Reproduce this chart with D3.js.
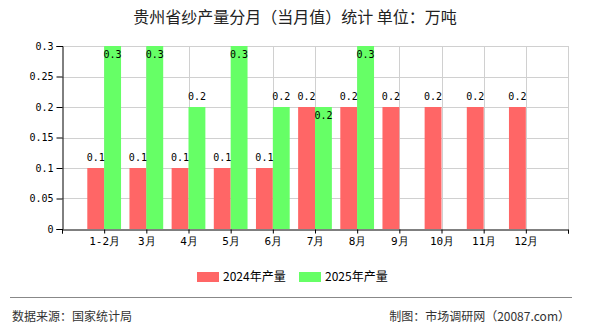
<!DOCTYPE html>
<html lang="zh">
<head>
<meta charset="utf-8">
<script src="https://cdnjs.cloudflare.com/ajax/libs/d3/7.8.5/d3.min.js"></script>
<style type="text/css">
	body{ margin:0; background:#fff; }
	svg{ display:block; }
</style>
</head>
<body>
<div id="chart"></div>
<script type="text/javascript">
	// data
	var months = ["1-2月","3月","4月","5月","6月","7月","8月","9月","10月","11月","12月"];
	var prod2024 = [0.1,0.1,0.1,0.1,0.1,0.2,0.2,0.2,0.2,0.2,0.2];
	var prod2025 = [0.3,0.3,0.2,0.3,0.2,0.2,0.3,null,null,null,null];
	var yTicks = [0,0.05,0.1,0.15,0.2,0.25,0.3];
	var seriesNames = ["2024年产量","2025年产量"];
	var colors = ["#ff6666","#66ff66"];

	var W = 590, H = 330;
	var pLeft = 62, pRight = 568, pTop = 46, pBottom = 229;
	var mono = "'DejaVu Sans Mono', monospace";
	var cjk = "'Noto Sans CJK SC', sans-serif";

	var svg = d3.select("#chart").append("svg")
		.attr("width", W).attr("height", H);

	// category positions sit on ticks 1..11, ticks 0 and 12 are empty
	var x = d3.scaleLinear().domain([0, months.length + 1]).range([pLeft, pRight]);
	var y = d3.scaleLinear().domain([0, 0.3]).range([pBottom, pTop]);
	var step = x(1) - x(0);
	var bw = step * 0.4;

	// title
	svg.append("text")
		.attr("x", 295).attr("y", 23)
		.attr("text-anchor", "middle")
		.style("font-family", cjk).style("font-size", "16px").style("fill", "#222")
		.text("贵州省纱产量分月（当月值）统计 单位：万吨");

	// grid
	var grid = svg.append("g");
	grid.selectAll("line.h").data(yTicks.slice(1)).enter().append("line")
		.attr("x1", pLeft).attr("x2", pRight)
		.attr("y1", function(d){ return Math.round(y(d)) + 0.5; })
		.attr("y2", function(d){ return Math.round(y(d)) + 0.5; })
		.style("stroke", "#d0d0d0");
	grid.selectAll("line.v").data(d3.range(1, months.length + 2)).enter().append("line")
		.attr("x1", function(d){ return Math.round(x(d)) + 0.5; })
		.attr("x2", function(d){ return Math.round(x(d)) + 0.5; })
		.attr("y1", pTop).attr("y2", pBottom)
		.style("stroke", "#d0d0d0");

	// bars
	var data = [];
	months.forEach(function(m, i){
		data.push({i:i, s:0, v:prod2024[i]});
		if (prod2025[i] != null) data.push({i:i, s:1, v:prod2025[i]});
	});
	svg.append("g").selectAll("rect").data(data).enter().append("rect")
		.attr("x", function(d){ return d.s == 0 ? x(d.i + 1) - bw : x(d.i + 1); })
		.attr("width", bw)
		.attr("y", function(d){ return y(d.v); })
		.attr("height", function(d){ return pBottom - y(d.v); })
		.style("fill", function(d){ return colors[d.s]; });

	// value labels: inside the bar when at the top or when it would collide
	svg.append("g").selectAll("text").data(data).enter().append("text")
		.attr("x", function(d){ return x(d.i + 1) + (d.s == 0 ? -bw/2 : bw/2); })
		.attr("y", function(d){
			var inside = d.v >= 0.3 || (d.s == 1 && prod2024[d.i] == d.v);
			return inside ? y(d.v) + 12 : y(d.v) - 7;
		})
		.attr("text-anchor", "middle")
		.style("font-family", mono).style("font-size", "10px").style("fill", "#000")
		.text(function(d){ return d.v; });

	// y axis
	var yAxis = svg.append("g").attr("transform", "translate(" + (pLeft + 0.5) + ",0)")
		.call(d3.axisLeft(y).tickValues(yTicks).tickSize(6).tickPadding(3)
			.tickFormat(function(d){ return String(d); }));
	yAxis.selectAll("text").style("font-family", mono).style("font-size", "10px").style("fill", "#000");
	yAxis.selectAll("line, path").style("stroke", "#000");

	// x axis
	var xAxis = svg.append("g").attr("transform", "translate(0," + (pBottom + 0.5) + ")")
		.call(d3.axisBottom(x).tickValues(d3.range(0, months.length + 2)).tickSize(4).tickPadding(4)
			.tickFormat(function(d){ return months[d - 1] || ""; }));
	xAxis.selectAll("text").style("font-family", mono).style("font-size", "11px").style("fill", "#000");
	xAxis.selectAll("line, path").style("stroke", "#000");

	// legend
	var legX = [197, 299];
	var leg = svg.append("g");
	seriesNames.forEach(function(n, k){
		leg.append("rect").attr("x", legX[k]).attr("y", 272).attr("width", 22).attr("height", 10)
			.style("fill", colors[k]);
		leg.append("text").attr("x", legX[k] + 26).attr("y", 281)
			.style("font-family", cjk).style("font-size", "12px").style("fill", "#000")
			.text(n);
	});

	// footer
	svg.append("line").attr("x1", 10).attr("x2", 572).attr("y1", 297.5).attr("y2", 297.5)
		.style("stroke", "#888");
	svg.append("text").attr("x", 12).attr("y", 321)
		.style("font-family", cjk).style("font-size", "12px").style("fill", "#333")
		.text("数据来源：国家统计局");
	svg.append("text").attr("x", 570).attr("y", 321).attr("text-anchor", "end")
		.style("font-family", cjk).style("font-size", "12px").style("fill", "#333")
		.text("制图：市场调研网（20087.com）");
</script>
</body>
</html>
